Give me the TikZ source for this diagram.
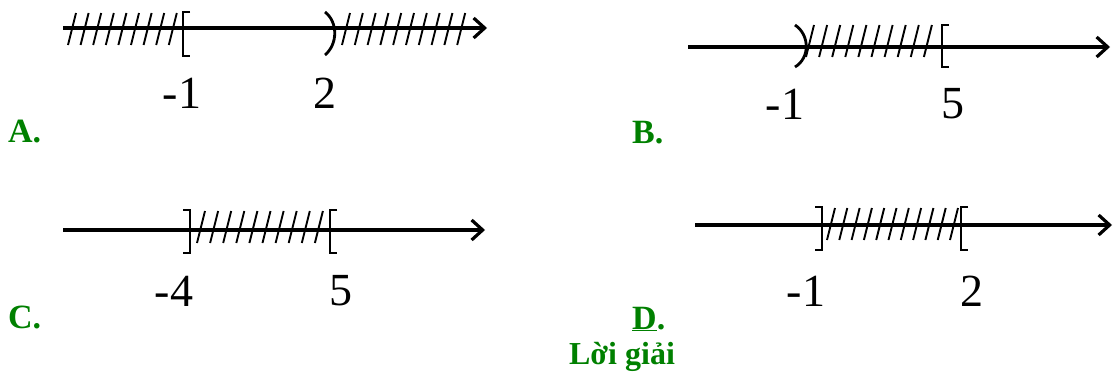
\documentclass[tikz,border=0pt]{standalone}
\usepackage{fontspec}
\setmainfont{Liberation Serif}
\usetikzlibrary{arrows.meta}
\definecolor{ansgreen}{RGB}{0,128,0}
\tikzset{
  axis/.style={line width=3.6pt, -{Straight Barb[length=11pt,width=20pt,line width=3.2pt]}},
  hatch/.style={line width=1.9pt},
  brk/.style={line width=2.8pt},
  num/.style={font=\fontsize{46}{52}\selectfont, inner sep=0pt},
  opt/.style={font=\fontsize{34}{38}\selectfont\bfseries, text=ansgreen, inner sep=0pt, anchor=west}
}
\begin{document}
\begin{tikzpicture}[x=1pt,y=-1pt]
\useasboundingbox (0,0) rectangle (1113,378);
% ---------- A ----------
\coordinate (aS) at (63,28);
\coordinate (aE) at (487,28);
\draw[axis] (aS) -- (aE);
\foreach \i in {0,...,8} \draw[hatch] ({68+12.6*\i},45) -- ({76+12.6*\i},13);
\foreach \i in {0,...,9} \draw[hatch] ({342+12.8*\i},45) -- ({350+12.8*\i},13);
\draw[brk] (190,12) -- (183,12) -- (183,56) -- (190,56);
\draw[brk] (325,12) .. controls (338,22) and (338,44) .. (325,55);
\node[num] (a1) at (182,93) {-1};
\node[num] (a2) at (325,93) {2};
\node[opt] (A) at (8,132) {A.};
% ---------- B ----------
\coordinate (bS) at (688,47);
\coordinate (bE) at (1110,47);
\draw[axis] (bS) -- (bE);
\foreach \i in {0,...,9} \draw[hatch] ({806+13.1*\i},57) -- ({814+13.1*\i},25);
\draw[brk] (795,25) .. controls (810,35) and (810,58) .. (795,67);
\draw[brk] (949,25) -- (942,25) -- (942,67) -- (949,67);
\node[num] (b1) at (785,104) {-1};
\node[num] (b2) at (953,104) {5};
\node[opt] (B) at (632,133) {B.};
% ---------- C ----------
\coordinate (cS) at (63,230);
\coordinate (cE) at (485,230);
\draw[axis] (cS) -- (cE);
\foreach \i in {0,...,9} \draw[hatch] ({197+13.1*\i},243) -- ({205+13.1*\i},211);
\draw[brk] (183,210) -- (190,210) -- (190,253) -- (183,253);
\draw[brk] (337,210) -- (330,210) -- (330,253) -- (337,253);
\node[num] (c1) at (174,291) {-4};
\node[num] (c2) at (341,291) {5};
\node[opt] (C) at (8,317) {C.};
% ---------- D ----------
\coordinate (dS) at (695,225);
\coordinate (dE) at (1112,225);
\draw[axis] (dS) -- (dE);
\foreach \i in {0,...,10} \draw[hatch] ({827+12.3*\i},240) -- ({835+12.3*\i},208);
\draw[brk] (815,207) -- (822,207) -- (822,250) -- (815,250);
\draw[brk] (968,207) -- (961,207) -- (961,250) -- (968,250);
\node[num] (d1) at (806,291) {-1};
\node[num] (d2) at (972,291) {2};
\node[opt] (D) at (632,319) {\underline{D}.};
\node[font=\fontsize{32}{36}\selectfont\bfseries, text=ansgreen, inner sep=0pt] (sol) at (622,357) {Lời giải};
\end{tikzpicture}
\end{document}
